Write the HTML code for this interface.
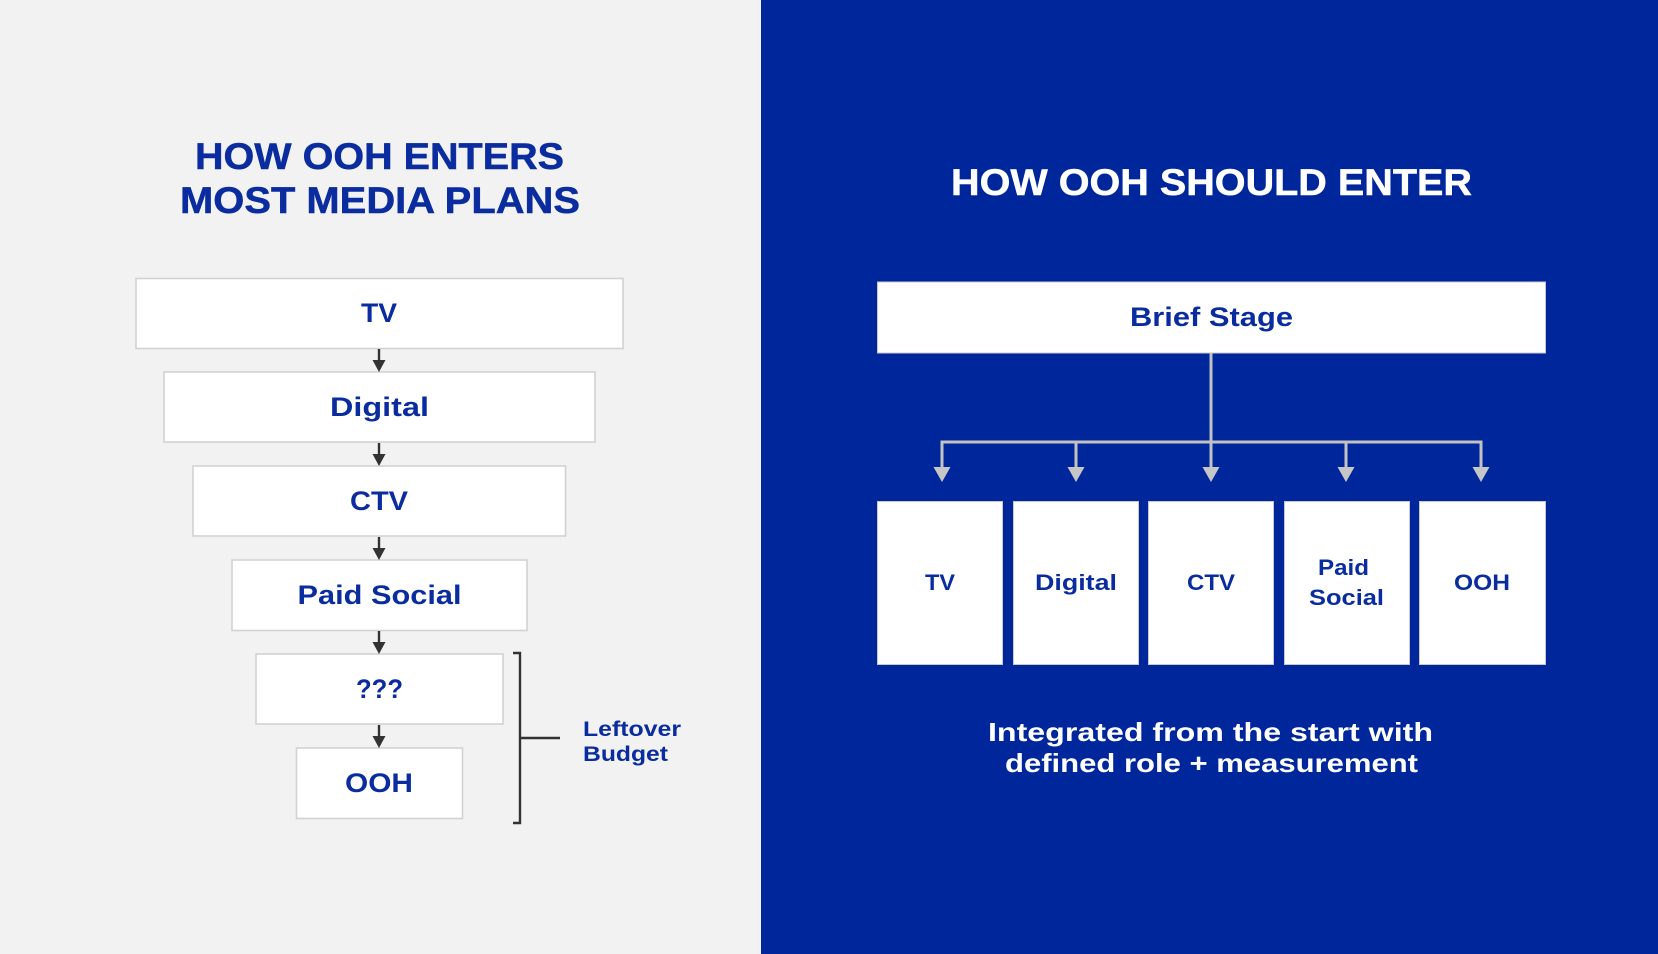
<!DOCTYPE html>
<html lang="en">
<head>
<meta charset="utf-8">
<title>How OOH enters media plans</title>
<style>
html,body{margin:0;padding:0;width:1658px;height:954px;overflow:hidden;background:#f2f2f2}
svg{display:block}
text{font-family:"Liberation Sans",sans-serif;font-weight:700}
.t{font-size:37px;stroke-width:.5px}
.b{fill:#0a2c9e}
.tb{stroke:#0a2c9e}
.box{fill:#fff;stroke:#d2d2d2;stroke-width:1.6}
.boxr{fill:#fff;stroke:#c8c8c8;stroke-width:1}
.dk{stroke:#333;stroke-width:2.4;fill:none}
.gr{stroke:#c2c2c2;stroke-width:3;fill:none}
</style>
</head>
<body>
<svg width="1658" height="954" viewBox="0 0 1658 954" xmlns="http://www.w3.org/2000/svg">
<rect x="0" y="0" width="761" height="954" fill="#f2f2f2"/>
<rect x="761" y="0" width="897" height="954" fill="#00269b"/>

<!-- left -->
<text class="t b tb" x="195" y="169" textLength="369" lengthAdjust="spacingAndGlyphs">HOW OOH ENTERS</text>
<text class="t b tb" x="180" y="213" textLength="400" lengthAdjust="spacingAndGlyphs">MOST MEDIA PLANS</text>

<rect class="box" x="136" y="278.500" width="487" height="70"/>
<rect class="box" x="164" y="372" width="431" height="70"/>
<rect class="box" x="193" y="466" width="372.500" height="70"/>
<rect class="box" x="232" y="560" width="295" height="70.500"/>
<rect class="box" x="256" y="654" width="247" height="70"/>
<rect class="box" x="296.500" y="748" width="166" height="70.500"/>

<g class="b">
<text x="361" y="322" font-size="27" textLength="36" lengthAdjust="spacingAndGlyphs">TV</text>
<text x="330" y="416" font-size="27" textLength="99" lengthAdjust="spacingAndGlyphs">Digital</text>
<text x="350" y="510" font-size="27" textLength="58" lengthAdjust="spacingAndGlyphs">CTV</text>
<text x="297.500" y="604" font-size="27" textLength="164" lengthAdjust="spacingAndGlyphs">Paid Social</text>
<text x="356" y="698" font-size="27" textLength="47" lengthAdjust="spacingAndGlyphs">???</text>
<text x="345" y="792" font-size="27" textLength="68" lengthAdjust="spacingAndGlyphs">OOH</text>
</g>

<g>
<path class="dk" d="M379 349V362M379 443V456M379 537V550M379 631V644M379 725V738"/>
<path fill="#333" d="M372.500 360h13l-6.500 12zM372.500 454h13l-6.500 12zM372.500 548h13l-6.500 12zM372.500 642h13l-6.500 12zM372.500 736h13l-6.500 12z"/>
</g>

<path class="dk" d="M513 653H520V823H513M520 738H560"/>
<text class="b" x="583" y="736" font-size="21" textLength="98" lengthAdjust="spacingAndGlyphs">Leftover</text>
<text class="b" x="583" y="761" font-size="21" textLength="85" lengthAdjust="spacingAndGlyphs">Budget</text>

<!-- right -->
<text class="t" fill="#fff" stroke="#fff" x="951" y="195" textLength="521" lengthAdjust="spacingAndGlyphs">HOW OOH SHOULD ENTER</text>

<rect class="boxr" x="877.500" y="282" width="668" height="71"/>
<text class="b" x="1130" y="326" font-size="27" textLength="163" lengthAdjust="spacingAndGlyphs">Brief Stage</text>

<path class="gr" d="M1211 353V442M942 468V442H1481V468M1076 442V468M1211 442V468M1346 442V468"/>
<path fill="#c6c6c6" d="M933.500 467h17l-8.500 15zM1067.500 467h17l-8.500 15zM1202.500 467h17l-8.500 15zM1337.500 467h17l-8.500 15zM1472.500 467h17l-8.500 15z"/>

<rect class="boxr" x="877.500" y="501.500" width="125" height="163"/>
<rect class="boxr" x="1013.500" y="501.500" width="125" height="163"/>
<rect class="boxr" x="1148.500" y="501.500" width="125" height="163"/>
<rect class="boxr" x="1284.500" y="501.500" width="125" height="163"/>
<rect class="boxr" x="1419.500" y="501.500" width="126" height="163"/>

<g class="b">
<text x="925" y="590" font-size="22" textLength="30" lengthAdjust="spacingAndGlyphs">TV</text>
<text x="1035" y="590" font-size="22" textLength="82" lengthAdjust="spacingAndGlyphs">Digital</text>
<text x="1187" y="590" font-size="22" textLength="48" lengthAdjust="spacingAndGlyphs">CTV</text>
<text x="1318" y="575" font-size="22" textLength="51" lengthAdjust="spacingAndGlyphs">Paid</text>
<text x="1309" y="605" font-size="22" textLength="75" lengthAdjust="spacingAndGlyphs">Social</text>
<text x="1454" y="590" font-size="22" textLength="56" lengthAdjust="spacingAndGlyphs">OOH</text>
</g>

<text fill="#fff" x="988" y="741" font-size="26" textLength="445" lengthAdjust="spacingAndGlyphs">Integrated from the start with</text>
<text fill="#fff" x="1005" y="772" font-size="26" textLength="413" lengthAdjust="spacingAndGlyphs">defined role + measurement</text>
</svg>
</body>
</html>
